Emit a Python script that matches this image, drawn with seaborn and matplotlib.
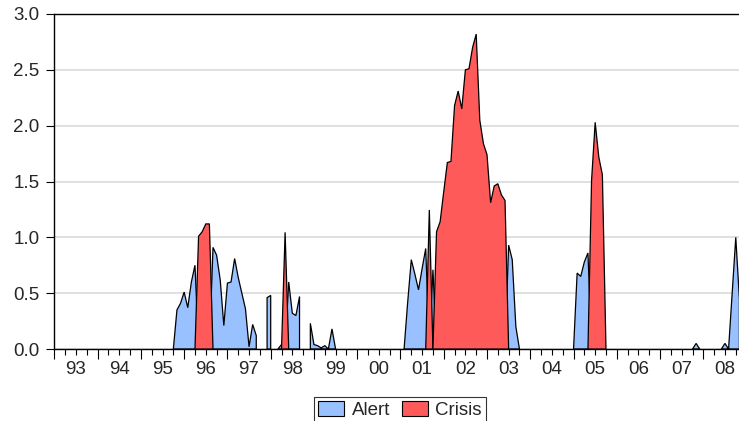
import numpy as np
import pandas as pd
import matplotlib
matplotlib.use("Agg")
import matplotlib.pyplot as plt
from matplotlib.patches import Patch
from matplotlib.ticker import FixedLocator, FixedFormatter, NullFormatter
import seaborn as sns

# monthly index, Jan 1993 onwards
start_year = 1993
values = ([0.0] * 33 +
          [0.0, 0.35, 0.41, 0.51, 0.37, 0.60, 0.75,
           1.01, 1.05, 1.12, 1.12,
           0.91, 0.84, 0.62, 0.21, 0.59, 0.60, 0.81, 0.64, 0.50, 0.36, 0.02, 0.22, 0.12,
           0.0, 0.0,
           0.46, 0.48,
           0.0,
           0.0, 0.04,
           1.045,
           0.60, 0.32, 0.30, 0.47,
           0.0, 0.0,
           0.23, 0.04, 0.03, 0.01, 0.03, 0.0, 0.18, 0.0] +
          [0.0] * 18 +
          [0.0, 0.42, 0.80, 0.67, 0.53, 0.72, 0.90,
           1.245,
           0.71,
           1.05, 1.14, 1.41, 1.67, 1.68, 2.18, 2.31, 2.15, 2.50, 2.51,
           2.70, 2.82, 2.05, 1.84, 1.74, 1.31, 1.46, 1.48, 1.38, 1.33,
           0.93, 0.80, 0.20, 0.0] +
          [0.0] * 14 +
          [0.0, 0.68, 0.65, 0.78, 0.86, 1.51, 2.03, 1.72, 1.56, 0.0] +
          [0.0] * 23 +
          [0.0, 0.05, 0.0] +
          [0.0] * 5 +
          [0.0, 0.05, 0.0, 0.50, 1.00, 0.45])

# A = alert, C = crisis, - = calm
regime = ("-" * 33 + "A" * 7 + "C" * 4 + "A" * 13 + "-" * 2 + "A" * 2 + "-" +
          "A" * 2 + "C" + "A" * 4 + "-" * 2 + "A" * 8 + "-" * 18 +
          "A" * 7 + "C" + "A" + "C" * 20 + "A" * 4 + "-" * 14 +
          "A" * 5 + "C" * 5 + "-" * 23 + "A" * 3 + "-" * 5 + "A" * 6)

years = list(range(1993, 2009))
legend_labels = ["Alert", "Crisis"]
colors = {"A": "#99C0FF", "C": "#FF5A5A"}

df = pd.DataFrame({"value": values, "regime": list(regime)})
df["t"] = start_year + np.arange(len(df)) / 12.0
n = len(df)

sns.set_theme(style="white")
plt.rcParams["font.family"] = ["Liberation Sans", "DejaVu Sans"]

fig = plt.figure(figsize=(7.39, 4.21), dpi=100)
ax = fig.add_axes([53.5 / 739, 72 / 421, (741 - 53.5) / 739, 335 / 421])


def runs(code):
    out = []
    i = 0
    while i < n:
        if df.regime[i] == code:
            j = i
            while j + 1 < n and df.regime[j + 1] == code:
                j += 1
            out.append((i, j))
            i = j + 1
        else:
            i += 1
    return out


for code, z in (("A", 2), ("C", 3)):
    for s, e in runs(code):
        xs = [df.t[s]] + list(df.t[s:e + 1]) + [df.t[e]]
        ys = [0.0] + list(df.value[s:e + 1]) + [0.0]
        if s > 0 and df.regime[s - 1] != "-":
            xs[0] = df.t[s - 1]
        if e < n - 1 and df.regime[e + 1] != "-":
            xs[-1] = df.t[e + 1]
        ax.fill(xs, ys, facecolor=colors[code], edgecolor="black",
                linewidth=0.9, zorder=z)

ax.set_xlim(1992.98, 1993 + (741 - 53.8) / 43.3)
ax.set_ylim(0, 3.0)
ax.set_yticks(np.arange(0, 3.01, 0.5))
ax.set_yticklabels([f"{v:.1f}" for v in np.arange(0, 3.01, 0.5)])
ax.yaxis.grid(True, color="#DADADA", linewidth=1.2)
ax.xaxis.grid(False)
ax.set_axisbelow(True)

ax.xaxis.set_major_locator(FixedLocator(years))
ax.xaxis.set_major_formatter(NullFormatter())
quarters = [y + q / 4 for y in years for q in (1, 2, 3)]
qlabels = [f"{int(q) % 100:02d}" if abs(q % 1 - 0.5) < 1e-6 else "" for q in quarters]
ax.xaxis.set_minor_locator(FixedLocator(quarters))
ax.xaxis.set_minor_formatter(FixedFormatter(qlabels))

ax.tick_params(axis="x", which="major", direction="out", length=7, width=0.8,
               color="black", bottom=True)
ax.tick_params(axis="x", which="minor", direction="out", length=4.5, width=0.8,
               color="black", bottom=True, pad=4.5, labelsize=13.5)
ax.tick_params(axis="y", direction="out", length=6, width=0.8, color="black",
               left=True, pad=4, labelsize=13.5)

for side in ("top", "left", "bottom"):
    ax.spines[side].set_color("black")
    ax.spines[side].set_linewidth(1.0)
ax.spines["right"].set_visible(False)

handles = [Patch(facecolor=colors["A"], edgecolor="black", linewidth=0.8),
           Patch(facecolor=colors["C"], edgecolor="black", linewidth=0.8)]
leg = fig.legend(handles, legend_labels, loc="upper center",
                 bbox_to_anchor=(400 / 739, 1 - 397 / 421), ncol=2,
                 fontsize=13.5, frameon=True, fancybox=False, edgecolor="black",
                 handlelength=1.4, handleheight=0.9, handletextpad=0.4,
                 columnspacing=0.6, borderpad=0.2, borderaxespad=0)
leg.get_frame().set_linewidth(0.8)

fig.savefig("out.png", dpi=100)
